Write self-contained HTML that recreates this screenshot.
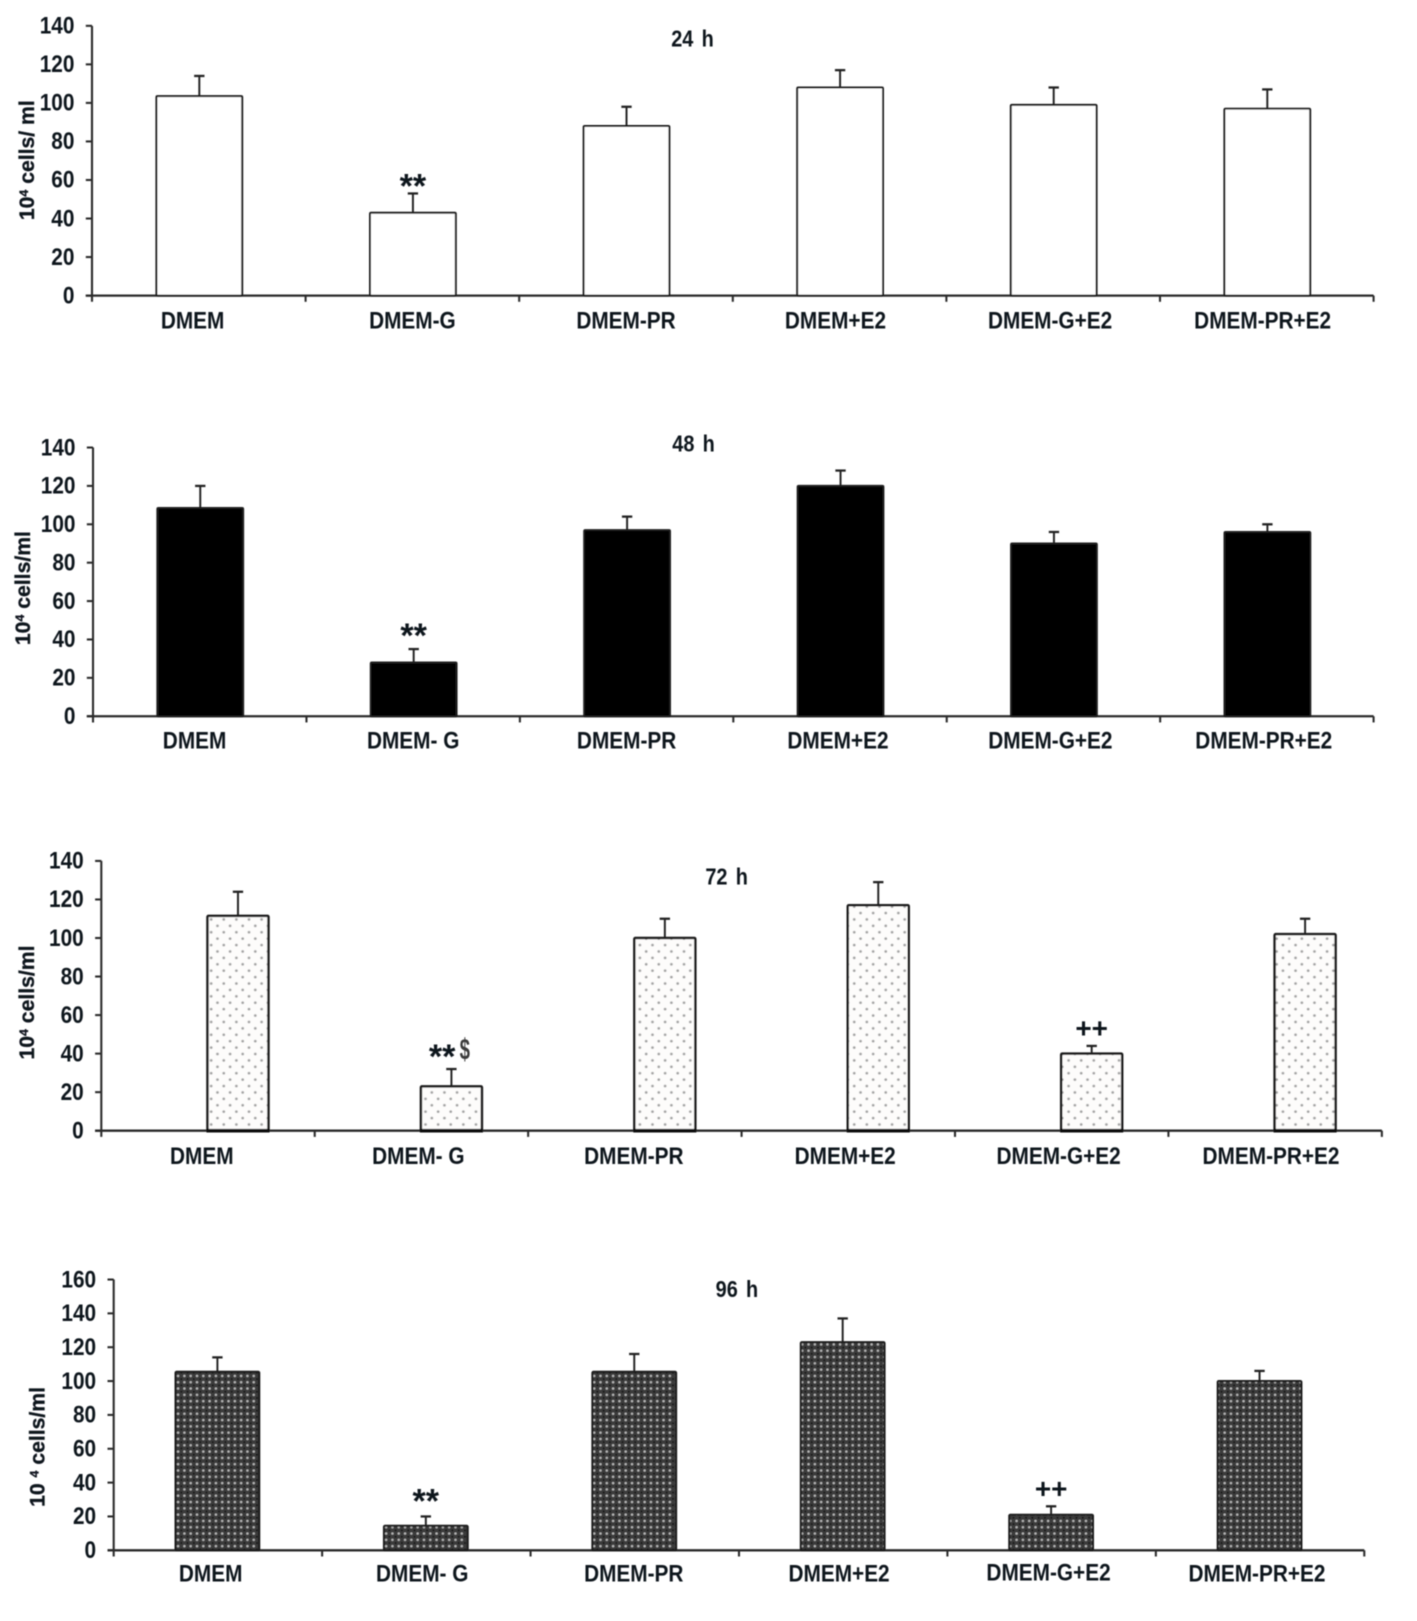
<!DOCTYPE html>
<html lang="en">
<head>
<meta charset="utf-8">
<title>Cell counts at 24, 48, 72 and 96 h</title>
<style>
html,body{margin:0;padding:0;background:#fff;}
svg{display:block;}
text{font-family:"Liberation Sans",sans-serif;font-weight:bold;fill:#10141f;}
</style>
</head>
<body>
<svg id="figure" xmlns="http://www.w3.org/2000/svg" width="1417" height="1621" viewBox="0 0 1371 1568.4">
  <defs>
    <filter id="soft" x="-2%" y="-2%" width="104%" height="104%"><feGaussianBlur stdDeviation="0.6"/></filter>
    <pattern id="sparse-dots" width="12.2" height="12.4" patternUnits="userSpaceOnUse">
      <rect width="12.2" height="12.4" fill="#fdfcfb"/>
      <circle cx="3" cy="3" r="1.35" fill="#a4a4a4"/>
      <circle cx="9.1" cy="9.2" r="1.35" fill="#a4a4a4"/>
    </pattern>
    <pattern id="dense-dots" width="6.1" height="6.1" patternUnits="userSpaceOnUse">
      <rect width="6.1" height="6.1" fill="#3a3a3a"/>
      <circle cx="1.5" cy="1.5" r="1.15" fill="#bcbcbc"/>
      <circle cx="4.55" cy="4.55" r="0.9" fill="#101010"/>
    </pattern>
  </defs>
  <g id="root" filter="url(#soft)"></g>
</svg>
<script>
const labels24h = ["DMEM","DMEM-G","DMEM-PR","DMEM+E2","DMEM-G+E2","DMEM-PR+E2"];
const labels48h = ["DMEM","DMEM- G","DMEM-PR","DMEM+E2","DMEM-G+E2","DMEM-PR+E2"];
const labels72h = ["DMEM","DMEM- G","DMEM-PR","DMEM+E2","DMEM-G+E2","DMEM-PR+E2"];
const labels96h = ["DMEM","DMEM- G","DMEM-PR","DMEM+E2","DMEM-G+E2","DMEM-PR+E2"];

const values24h = [103.5,43,88,108,99,97];
const errors24h = [10.5,10,10,9,9,10];
const values48h = [108.5,28,97,120,90,96];
const errors48h = [11.5,7,7,8,6,4];
const values72h = [111.5,23,100,117,40,102];
const errors72h = [12.5,9,10,12,4,8];
const values96h = [105.5,14.5,105.5,123,21,100];
const errors96h = [8.5,5.5,10.5,14,5,6];

const ticks140 = [0,20,40,60,80,100,120,140];
const ticks160 = [0,20,40,60,80,100,120,140,160];

const marks24h = ["","**","","","",""];
const marks48h = ["","**","","","",""];
const marks72h = ["","**","","","++",""];
const marks96h = ["","**","","","++",""];

const panels = [
  {id:"24h",title:"24 h",labels:labels24h,values:values24h,errors:errors24h,ticks:ticks140,marks:marks24h,
   x0:89,x1:1329,y0:286,yTop:25,barW:83,barDx:0.5,fill:"#ffffff",stroke:1.9,base:0,
   yTitle:["10","4"," cells/ ml"],yTitleX:33,yTitleY:155,titleX:670,titleY:45,labelY:318,
   labelDx:[-6,0,0,-4,-3,-4],labelDy:[0,0,0,0,0,0],starDx:0,starDy:4,plusDy:-8},
  {id:"48h",title:"48 h",labels:labels48h,values:values48h,errors:errors48h,ticks:ticks140,marks:marks48h,
   x0:90,x1:1329,y0:693,yTop:433,barW:83,barDx:0.5,fill:"#000000",stroke:1.9,base:0,
   yTitle:["10","4"," cells/ml"],yTitleX:29,yTitleY:569,titleX:671,titleY:437,labelY:724,
   labelDx:[-5,0,0,-2,-3,-3],labelDy:[0,0,0,0,0,0],starDx:0,starDy:-2,plusDy:-8},
  {id:"72h",title:"72 h",labels:labels72h,values:values72h,errors:errors72h,ticks:ticks140,marks:marks72h,
   x0:98,x1:1337,y0:1094,yTop:833,barW:59,barDx:29,fill:"url(#sparse-dots)",stroke:2.4,base:3.6,
   yTitle:["10","4"," cells/ml"],yTitleX:33,yTitleY:970,titleX:703,titleY:856,labelY:1126,
   labelDx:[-6,-3,-1,-3,-3,-4],labelDy:[0,0,0,0,0,0],starDx:-9,starDy:-1,plusDy:-8},
  {id:"96h",title:"96 h",labels:labels96h,values:values96h,errors:errors96h,ticks:ticks160,marks:marks96h,
   x0:110,x1:1320,y0:1500,yTop:1238,barW:81,barDx:-0.5,fill:"url(#dense-dots)",stroke:2,base:0,
   yTitle:["10 ","4"," cells/ml"],yTitleX:43,yTitleY:1400,titleX:713,titleY:1255,labelY:1530,
   labelDx:[-7,-4,-1,-4,-3,-3],labelDy:[0,0,0,0,-1,0],starDx:0,starDy:-4,plusDy:-8}
];

const NS = "http://www.w3.org/2000/svg";
const root = document.getElementById("root");
const AXIS = "#2c2c2c";
const NARROW = " scale(0.875,1)";

function make(tag, parent, attrs, txt){
  const el = document.createElementNS(NS, tag);
  for (const k in attrs) el.setAttribute(k, attrs[k]);
  if (txt !== undefined) el.textContent = txt;
  parent.appendChild(el);
  return el;
}
function at(x, y){ return "translate(" + x + "," + y + ")" + NARROW; }

panels.forEach(function(p){
  const g = make("g", root, {});
  
  

  const yMax = p.ticks[p.ticks.length - 1];
  const n = p.values.length;
  const yScale = function(v){ return p.y0 - (v / yMax) * (p.y0 - p.yTop); };
  const xEdge = function(i){ return p.x0 + i * (p.x1 - p.x0) / n; };
  const xCenter = function(i){ return xEdge(i + 0.5); };

  // axes
  const yAxis = make("line", g, {x1:p.x0, x2:p.x0, y1:p.yTop, y2:p.y0 + 6, stroke:AXIS, "stroke-width":2});
  
  

  const xAxis = make("line", g, {x1:p.x0 - 6, x2:p.x1, y1:p.y0, y2:p.y0, stroke:AXIS, "stroke-width":2.2});
  
  

  for (let i = 1; i <= n; i++) {
    const t = make("line", g, {x1:xEdge(i), x2:xEdge(i), y1:p.y0, y2:p.y0 + 6, stroke:AXIS, "stroke-width":2});
    
    
  }

  p.ticks.forEach(function(v){
    const y = yScale(v);
    const t = make("line", g, {x1:p.x0 - 6, x2:p.x0, y1:y, y2:y, stroke:AXIS, "stroke-width":2});
    
    

    const l = make("text", g, {transform:at(p.x0 - 17, y + 7.5), "text-anchor":"end", "font-size":23}, String(v));
    
    
  });

  p.values.forEach(function(v, i){
    const cx = xCenter(i) + p.barDx;
    const top = yScale(v);
    const errTop = yScale(v + p.errors[i]);

    const err = make("line", g, {x1:cx, x2:cx, y1:top, y2:errTop, stroke:"#222", "stroke-width":1.9});
    
    

    const cap = make("line", g, {x1:cx - 5, x2:cx + 5, y1:errTop, y2:errTop, stroke:"#222", "stroke-width":2.2});
    
    

    const bar = make("rect", g, {x:cx - p.barW / 2, y:top, width:p.barW, height:p.y0 - top, fill:p.fill, stroke:"#1c1c1c", "stroke-width":p.stroke, rx:1});
    
    

    if (p.base) {
      const b = make("line", g, {x1:cx - p.barW / 2 - 1, x2:cx + p.barW / 2 + 1, y1:p.y0, y2:p.y0, stroke:"#111", "stroke-width":p.base});
      
      
    }

    const lab = make("text", g, {transform:at(xCenter(i) + p.labelDx[i], p.labelY + p.labelDy[i]), "text-anchor":"middle", "font-size":23}, p.labels[i]);
    
    

    if (p.marks[i]) {
      const isStar = p.marks[i] === "**";
      const m = make("text", g, {x:cx + (isStar ? p.starDx : 0), y:errTop + (isStar ? p.starDy : p.plusDy), "text-anchor":"middle", "font-size":isStar ? 33 : 27}, p.marks[i]);
      
      
    }
  });

  // y-axis title with superscript
  const yt = make("text", g, {transform:"translate(" + p.yTitleX + "," + p.yTitleY + ") rotate(-90)", "text-anchor":"middle", "font-size":20.5, stroke:"#10141f", "stroke-width":0.3});
  
  
  make("tspan", yt, {}, p.yTitle[0]);
  make("tspan", yt, {dy:-6, "font-size":12}, p.yTitle[1]);
  make("tspan", yt, {dy:6}, p.yTitle[2]);

  const title = make("text", g, {transform:at(p.titleX, p.titleY), "text-anchor":"middle", "font-size":22, "word-spacing":3}, p.title);
  
  

  // the dollar sign beside the 72 h asterisks
  if (p.id === "72h") {
    const bx = xCenter(1) + p.barDx;
    const by = yScale(p.values[1] + p.errors[1]);
    const d = make("text", g, {transform:"translate(" + (bx + 13) + "," + (by - 9) + ") scale(0.62,1)", "text-anchor":"middle", "font-size":29, "font-weight":"normal", style:"fill:#3a3a3a"}, "$");
    
    
  }
});
</script>
</body>
</html>
